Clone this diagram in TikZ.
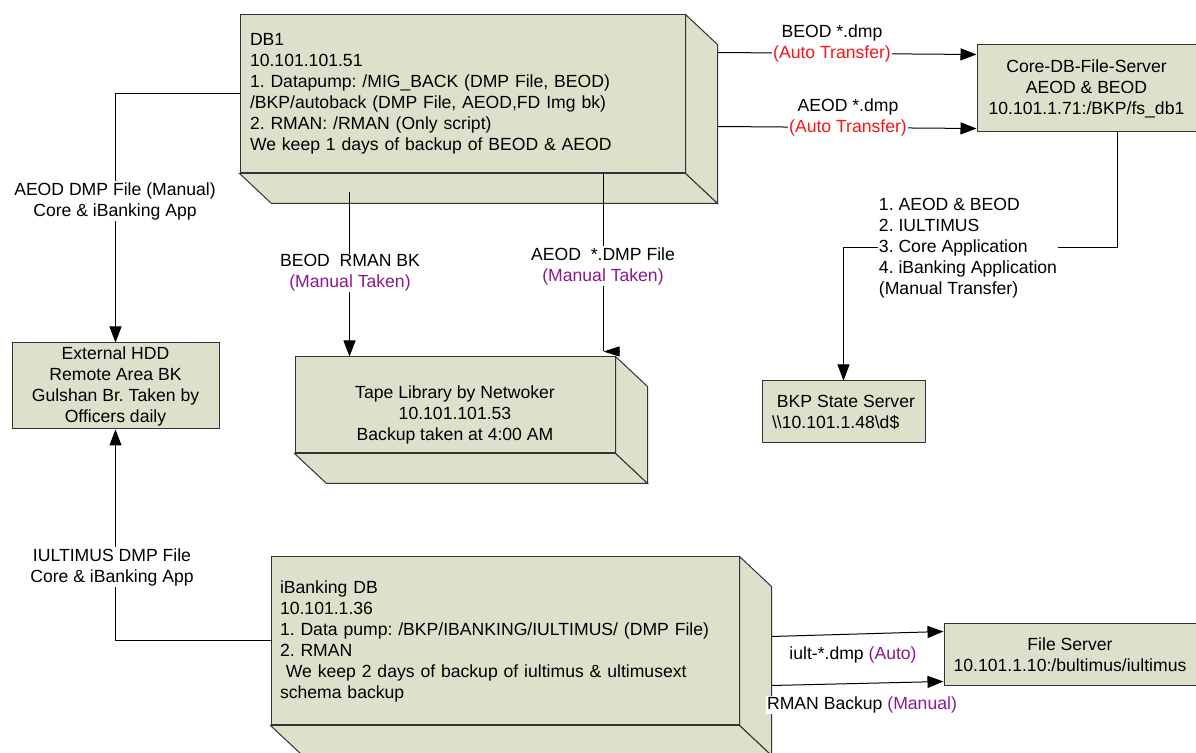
\documentclass[tikz,border=0pt]{standalone}
\usepackage{fontspec}
\setmainfont{Liberation Sans}
\usetikzlibrary{arrows.meta}
\definecolor{boxfill}{RGB}{221,224,203}
\definecolor{autored}{RGB}{250,20,20}
\definecolor{manpurple}{RGB}{140,25,140}
\tikzset{
  srv/.style={draw=black!80, fill=boxfill, line width=0.5pt, inner sep=0pt},
  arr/.style={-{Triangle[length=8pt,width=6pt]}, line width=0.5pt},
  lbl/.style={fill=white, inner sep=0.5pt, align=center},
}
\frenchspacing

\begin{document}
\begin{tikzpicture}[x=0.5pt, y=-0.5pt, font=\fontsize{8.8}{10.5}\selectfont]
\useasboundingbox (0,0) rectangle (1196,753);
\clip (0,0) rectangle (1196,753);

% database boxes (front faces)
\node[srv, text width=212.5pt, inner xsep=5pt, minimum height=79pt, align=left] (db1) at (462.5,94)
  {DB1\\ 10.101.101.51\\ 1. Datapump: /MIG\_BACK (DMP File, BEOD)\\ /BKP/autoback (DMP File, AEOD,FD Img bk)\\ 2. RMAN: /RMAN (Only script)\\ We keep 1 days of backup of BEOD \& AEOD};
\node[srv, minimum width=160pt, minimum height=48pt, align=center] (tape) at (455,405)
  {\rule{0pt}{16.5pt}Tape Library by Netwoker\\ 10.101.101.53\\ Backup taken at 4:00 AM};
\node[srv, text width=225pt, inner xsep=4.5pt, minimum height=84pt, align=left] (ibank) at (505,641)
  {iBanking DB\\ 10.101.1.36\\ 1. Data pump: /BKP/IBANKING/IULTIMUS/ (DMP File)\\ 2. RMAN\\ \ We keep 2 days of backup of iultimus \& ultimusext\\ schema backup};

% side and bottom faces
\foreach \b in {db1,tape,ibank}{
  \filldraw[srv] (\b.north east) -- ++(32,30) -- ([shift={(32,30)}]\b.south east) -- (\b.south east) -- cycle;
  \filldraw[srv] (\b.south west) -- (\b.south east) -- ++(32,30) -- ([shift={(32,30)}]\b.south west) -- cycle;
}

% servers
\node[srv, minimum width=109.5pt, minimum height=43.5pt, align=center] (core) at (1086.5,88.5)
  {Core-DB-File-Server\\ AEOD \& BEOD\\ 10.101.1.71:/BKP/fs\_db1};
\node[srv, minimum width=126pt, minimum height=31pt, align=center] (fs) at (1070,655)
  {File Server\\ 10.101.1.10:/bultimus/iultimus};
\node[srv, minimum width=81.5pt, minimum height=31pt, align=left] (bkp) at (843.5,412)
  {\ BKP State Server\\ \textbackslash\textbackslash 10.101.1.48\textbackslash d\$};
\node[srv, minimum width=103.5pt, minimum height=43pt, align=center] (hdd) at (115.5,386)
  {External HDD\\ Remote Area BK\\ Gulshan Br. Taken by\\ Officers daily};

% connectors
\draw[arr] ([shift={(32,38)}]db1.north east) -- ([shift={(0,10)}]core.north west);
\draw[arr] ([shift={(32,112)}]db1.north east) -- ([shift={(0,-4)}]core.south west);
\draw[arr] ([shift={(31,0)}]core.south) |- ([shift={(0,-133)}]bkp.north) -- (bkp.north);
\draw[arr] (db1.west) -| (hdd.north);
\draw[arr] (ibank.west) -| (hdd.south);
\draw[arr] ([shift={(110,19)}]db1.south west) coordinate (bkstart) -- (bkstart |- tape.north);
\draw ([shift={(-82,0)}]db1.south east) -- ([shift={(-12,-5)}]tape.north east) coordinate (aeodend);
\draw[-{Triangle[length=8pt,width=5pt]}] ([shift={(16,0)}]aeodend) -- (aeodend);
\draw[arr] ([shift={(32,80)}]ibank.north east) -- ([shift={(0,8)}]fs.north west);
\draw[arr] ([shift={(32,129)}]ibank.north east) -- ([shift={(0,-5)}]fs.south west);

% labels
\node[lbl] (beodlbl) at (832,43) {BEOD *.dmp\\ {\color{autored}(Auto Transfer)}};
\node[lbl] (aeodlbl) at (848,117) {AEOD *.dmp\\ {\color{autored}(Auto Transfer)}};
\node[lbl, align=left] (translbl) at (968,248) {1. AEOD \& BEOD\\ 2. IULTIMUS\\ 3. Core Application\\ 4. iBanking Application\\ (Manual Transfer)};
\node[lbl] (hddlbl) at (115,201) {AEOD DMP File (Manual)\\ Core \& iBanking App};
\node[lbl] (iultlbl) at (112,567) {IULTIMUS DMP File\\ Core \& iBanking App};
\node[lbl] (rmanlbl) at (350,273) {BEOD\ \ RMAN BK\\ {\color{manpurple}(Manual Taken)}};
\node[lbl] (dmplbl) at (603,266) {AEOD\ \ *.DMP File\\ {\color{manpurple}(Manual Taken)}};
\node[lbl] (autolbl) at (853,655) {iult-*.dmp {\color{manpurple}(Auto)}};
\node[lbl] (manlbl) at (862,705) {RMAN Backup {\color{manpurple}(Manual)}};
\end{tikzpicture}
\end{document}
